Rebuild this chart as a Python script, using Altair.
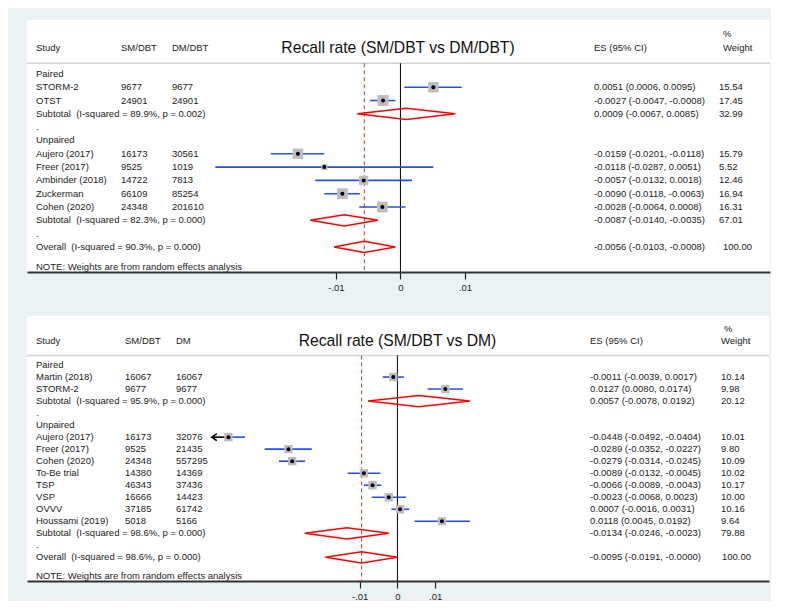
import altair as alt
import pandas as pd

# ---------------- Panel 1 : SM/DBT vs DM/DBT ----------------
p1_title = "Recall rate (SM/DBT vs DM/DBT)"
p1_headers = ["Study", "SM/DBT", "DM/DBT", "ES (95% CI)", "%", "Weight"]
p1_study = ["Paired", "STORM-2", "OTST", "Subtotal\u00a0\u00a0(I-squared = 89.9%, p = 0.002)", ".",
            "Unpaired", "Aujero (2017)", "Freer (2017)", "Ambinder (2018)", "Zuckerman",
            "Cohen (2020)", "Subtotal\u00a0\u00a0(I-squared = 82.3%, p = 0.000)", ".",
            "Overall\u00a0\u00a0(I-squared = 90.3%, p = 0.000)"]
p1_kind = ["group", "study", "study", "subtotal", "blank", "group", "study", "study", "study",
           "study", "study", "subtotal", "blank", "overall"]
p1_n1 = ["", "9677", "24901", "", "", "", "16173", "9525", "14722", "66109", "24348", "", "", ""]
p1_n2 = ["", "9677", "24901", "", "", "", "30561", "1019", "7813", "85254", "201610", "", "", ""]
p1_es = [None, 0.0051, -0.0027, 0.0009, None, None, -0.0159, -0.0118, -0.0057, -0.0090, -0.0028, -0.0087, None, -0.0056]
p1_lo = [None, 0.0006, -0.0047, -0.0067, None, None, -0.0201, -0.0287, -0.0132, -0.0118, -0.0064, -0.0140, None, -0.0103]
p1_hi = [None, 0.0095, -0.0008, 0.0085, None, None, -0.0118, 0.0051, 0.0018, -0.0063, 0.0008, -0.0035, None, -0.0008]
p1_w = [None, 15.54, 17.45, 32.99, None, None, 15.79, 5.52, 12.46, 16.94, 16.31, 67.01, None, 100.00]
p1_arrow = [False] * 14

# ---------------- Panel 2 : SM/DBT vs DM ----------------
p2_title = "Recall rate (SM/DBT vs DM)"
p2_headers = ["Study", "SM/DBT", "DM", "ES (95% CI)", "%", "Weight"]
p2_study = ["Paired", "Martin (2018)", "STORM-2", "Subtotal\u00a0\u00a0(I-squared = 95.9%, p = 0.000)", ".",
            "Unpaired", "Aujero (2017)", "Freer (2017)", "Cohen (2020)", "To-Be trial", "TSP", "VSP",
            "OVVV", "Houssami (2019)", "Subtotal\u00a0\u00a0(I-squared = 98.6%, p = 0.000)", ".",
            "Overall\u00a0\u00a0(I-squared = 98.6%, p = 0.000)"]
p2_kind = ["group", "study", "study", "subtotal", "blank", "group", "study", "study", "study",
           "study", "study", "study", "study", "study", "subtotal", "blank", "overall"]
p2_n1 = ["", "16067", "9677", "", "", "", "16173", "9525", "24348", "14380", "46343", "16666",
         "37185", "5018", "", "", ""]
p2_n2 = ["", "16067", "9677", "", "", "", "32076", "21435", "557295", "14369", "37436", "14423",
         "61742", "5166", "", "", ""]
p2_es = [None, -0.0011, 0.0127, 0.0057, None, None, -0.0448, -0.0289, -0.0279, -0.0089, -0.0066,
         -0.0023, 0.0007, 0.0118, -0.0134, None, -0.0095]
p2_lo = [None, -0.0039, 0.0080, -0.0078, None, None, -0.0492, -0.0352, -0.0314, -0.0132, -0.0089,
         -0.0068, -0.0016, 0.0045, -0.0246, None, -0.0191]
p2_hi = [None, 0.0017, 0.0174, 0.0192, None, None, -0.0404, -0.0227, -0.0245, -0.0045, -0.0043,
         0.0023, 0.0031, 0.0192, -0.0023, None, -0.0000]
p2_w = [None, 10.14, 9.98, 20.12, None, None, 10.01, 9.80, 10.09, 10.02, 10.17, 10.00, 10.16,
        9.64, 79.88, None, 100.00]
p2_arrow = [False] * 6 + [True] + [False] * 10

note_text = "NOTE: Weights are from random effects analysis"
tick_values = [-0.01, 0, 0.01]
tick_labels = ["-.01", "0", ".01"]

FONT = "Liberation Sans"
TXT = "#222222"
BLUE = "#2050f0"
RED = "#ff0000"


def make_df(study, kind, n1, n2, es, lo, hi, w, arrow):
    rows = []
    for i in range(len(study)):
        rows.append(dict(
            row=i, study=study[i], kind=kind[i], n1=n1[i], n2=n2[i],
            es=es[i], lo=lo[i], hi=hi[i], w=w[i], arrow=arrow[i],
            es_text="" if es[i] is None else f"{es[i]:.4f} ({lo[i]:.4f}, {hi[i]:.4f})",
            w_text="" if w[i] is None else f"{w[i]:.2f}",
        ))
    return pd.DataFrame(rows)


def make_diamonds(df, h):
    out = []
    for _, r in df[df.kind.isin(["subtotal", "overall"])].iterrows():
        pts = [(r.lo, r.row), (r.es, r.row - h), (r.hi, r.row), (r.es, r.row + h), (r.lo, r.row)]
        for k, (x, y) in enumerate(pts):
            out.append(dict(id=int(r.row), k=k, x=x, y=y))
    return pd.DataFrame(out)


label_expr = "".join(
    f"abs(datum.value - ({v})) < 1e-9 ? '{l}' : " for v, l in zip(tick_values, tick_labels)
) + "''"


def panel(df, dia, title, headers, xdom, ydom, W, H, cols, box_dom, box_max, note_row,
          hdr_row, pct_row, wt_overall_x):
    xs = alt.Scale(domain=xdom, nice=False, zero=False)
    ys = alt.Scale(domain=ydom, nice=False, zero=False, reverse=True)
    xaxis = alt.Axis(values=tick_values, labelExpr=label_expr, title=None, grid=False,
                     domainColor="#333333", domainWidth=2, tickColor="#222222", tickSize=7,
                     tickWidth=1.2, labelFont=FONT, labelFontSize=9.5, labelColor=TXT,
                     labelPadding=3)

    def X(f):
        return alt.X(f, type="quantitative", scale=xs, axis=xaxis)

    def Y(f):
        return alt.Y(f, type="quantitative", scale=ys, axis=None)

    def XD(v):
        return alt.XDatum(v, scale=xs, axis=xaxis)

    def YD(v):
        return alt.YDatum(v, scale=ys, axis=None)

    base = alt.Chart(df)
    one = base.transform_filter("datum.kind == 'overall'")
    studies = base.transform_filter("datum.kind == 'study'")

    layers = []
    layers.append(one.mark_rule(color="#d2d2d2", strokeWidth=1.5).encode(
        x=alt.value(0), x2=alt.value(W), y=YD(-0.8)))
    layers.append(one.mark_rule(color="black", strokeWidth=1).encode(
        x=XD(0), y=YD(-0.8), y2=alt.value(H)))
    layers.append(one.mark_rule(color="#cc3333", strokeWidth=1, strokeDash=[4, 3]).encode(
        x=X("es"), y=YD(-0.8), y2=alt.value(H)))
    layers.append(studies.transform_calculate(lo_b="datum.arrow ? datum.es : datum.lo")
                  .mark_rule(color=BLUE, strokeWidth=1.6).encode(
        x=X("lo_b"), x2="hi:Q", y=Y("row")))
    arrows = studies.transform_filter("datum.arrow")
    layers.append(arrows.mark_rule(color="black", strokeWidth=1.6).encode(
        x=X("lo"), x2="es:Q", y=Y("row")))
    layers.append(arrows.mark_point(shape="M1.4,-1L0,0L1.4,1", filled=False, color="black",
                                    strokeWidth=1.6, size=49, opacity=1).encode(
        x=X("lo"), y=Y("row")))
    layers.append(studies.mark_square(color="#bdbdbd", opacity=1).encode(
        x=X("es"), y=Y("row"),
        size=alt.Size("w:Q", scale=alt.Scale(domain=[0, box_dom], range=[0, box_max]), legend=None)))
    layers.append(studies.mark_circle(color="black", size=16, opacity=1).encode(
        x=X("es"), y=Y("row")))
    layers.append(alt.Chart(dia).mark_line(color=RED, strokeWidth=1.5).encode(
        x=X("x"), y=Y("y"), detail="id:N", order="k:Q"))

    tstyle = dict(font=FONT, fontSize=9.5, color=TXT, align="left", baseline="middle")
    for col, px in zip(["study", "n1", "n2", "es_text"], cols[:4]):
        layers.append(base.mark_text(**tstyle).encode(x=alt.value(px), y=Y("row"), text=f"{col}:N"))
    layers.append(base.transform_filter("datum.kind != 'overall'").mark_text(**tstyle).encode(
        x=alt.value(cols[4]), y=Y("row"), text="w_text:N"))
    layers.append(one.mark_text(**tstyle).encode(
        x=alt.value(wt_overall_x), y=Y("row"), text="w_text:N"))

    # headers
    for lab, px in zip(headers[:4], cols[:4]):
        layers.append(one.mark_text(**tstyle).encode(x=alt.value(px), y=YD(hdr_row), text=alt.value(lab)))
    layers.append(one.mark_text(**tstyle).encode(x=alt.value(cols[5]), y=YD(pct_row), text=alt.value(headers[4])))
    layers.append(one.mark_text(**tstyle).encode(x=alt.value(cols[6]), y=YD(hdr_row), text=alt.value(headers[5])))
    layers.append(one.mark_text(font=FONT, fontSize=15.7, color="#111111", align="center",
                                baseline="middle").encode(
        x=alt.value(W / 2 - 0.5), y=YD(hdr_row), text=alt.value(title)))
    layers.append(one.mark_text(**tstyle).encode(x=alt.value(cols[0]), y=YD(note_row), text=alt.value(note_text)))

    return alt.layer(*layers).properties(width=W, height=H)


df1 = make_df(p1_study, p1_kind, p1_n1, p1_n2, p1_es, p1_lo, p1_hi, p1_w, p1_arrow)
df2 = make_df(p2_study, p2_kind, p2_n1, p2_n2, p2_es, p2_lo, p2_hi, p2_w, p2_arrow)
dia1 = make_diamonds(df1, 0.42)
dia2 = make_diamonds(df2, 0.47)

top = panel(df1, dia1, p1_title, p1_headers, [-0.0579, 0.0573], [-4.05, 14.88], 743, 252,
            [9, 94, 145, 567, 692, 696, 696], 17.45, 122, 14.5, -1.95, -3.0, 696)
bottom = panel(df2, dia2, p2_title, p2_headers, [-0.0982, 0.0985], [-4.08, 17.97], 742, 265,
               [9, 98, 149, 563, 694, 697, 694], 10.17, 47, 17.55, -2.0, -3.0, 695)

chart = alt.vconcat(top, bottom, spacing=24).properties(
    background="#eaf2f3",
    padding={"left": 18, "top": 12, "right": 0, "bottom": 0},
).configure_view(fill="white", stroke=None)

chart.save("out.html", embed_options={"renderer": "svg", "actions": False})
